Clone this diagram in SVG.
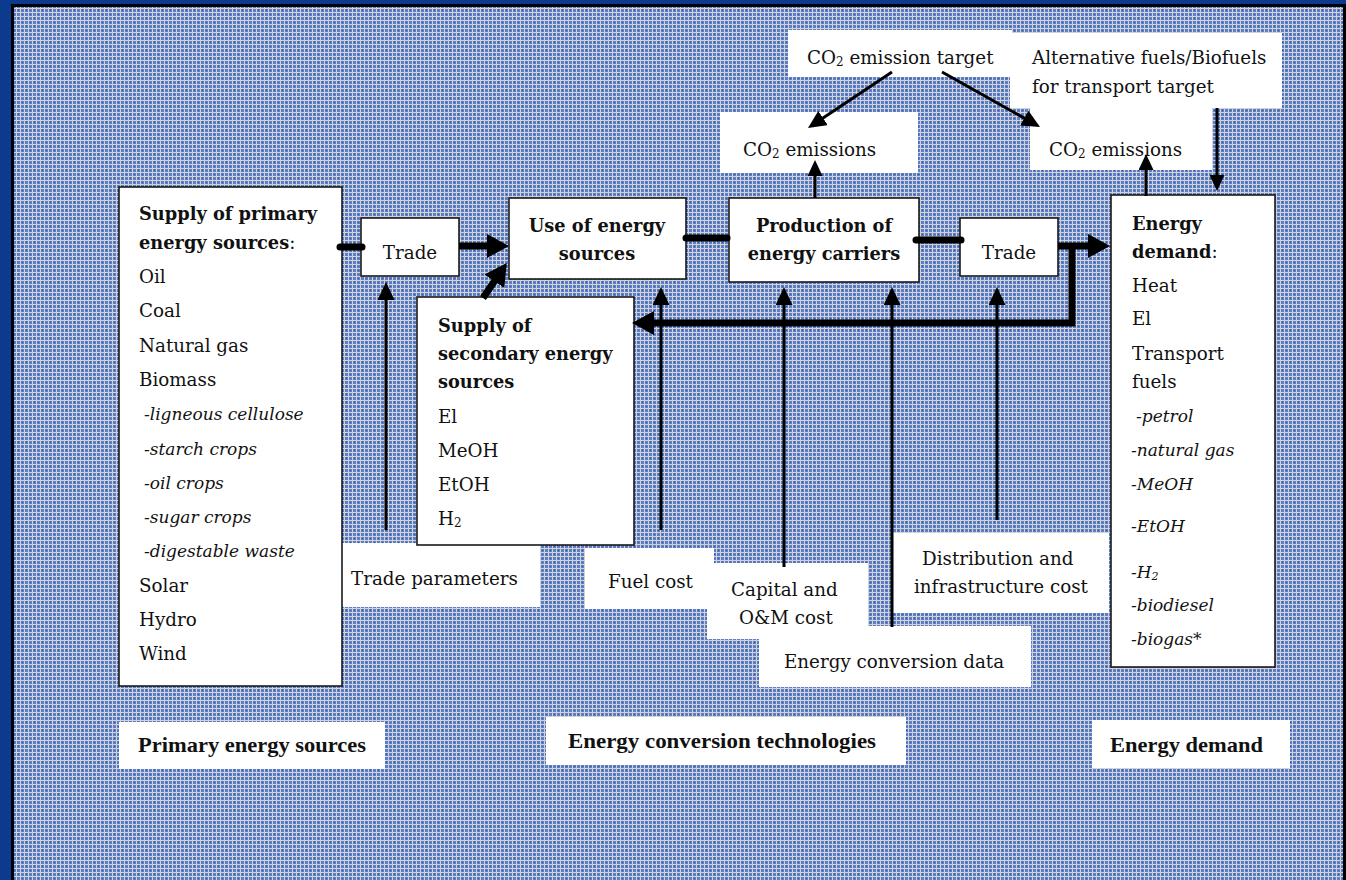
<svg xmlns="http://www.w3.org/2000/svg" width="1346" height="880" viewBox="0 0 1346 880">
<style>
.t{font-family:"DejaVu Serif","Liberation Serif",serif;font-size:18.3px;fill:#111}
.b{font-weight:bold;font-size:17.8px}
.i{font-style:italic;font-size:17px}
.lab{font-family:"Liberation Serif",serif;font-size:22px;font-weight:bold;fill:#111}
.node{fill:#fff;stroke:#1a1a1a;stroke-width:1.6}
.wb{fill:#fff}
.thick{stroke:#000;stroke-width:7;fill:none}
.med{stroke:#000;stroke-width:3;fill:none}
</style>
<defs>
<pattern id="bg" width="8" height="8" patternUnits="userSpaceOnUse">
<rect width="8" height="8" fill="#5d7fc9"/>
<rect x="0" y="0" width="8" height="1" fill="#d2d2d2"/>
<rect x="0" y="4" width="8" height="1" fill="#d2d2d2"/>
<rect x="0" y="0" width="1" height="8" fill="#d2d2d2"/>
<rect x="4" y="0" width="1" height="8" fill="#d2d2d2"/>
<rect x="2" y="2" width="1" height="1" fill="#2a4ea8"/>
<rect x="6" y="6" width="1" height="1" fill="#2a4ea8"/>
</pattern>
<marker id="ah" viewBox="0 0 22 24" refX="10" refY="12" markerWidth="22" markerHeight="24" markerUnits="userSpaceOnUse" orient="auto"><path d="M0,0 L22,12 L0,24 z" fill="#000"/></marker>
<marker id="am" viewBox="0 0 18 17" refX="8" refY="8.5" markerWidth="18" markerHeight="17" markerUnits="userSpaceOnUse" orient="auto"><path d="M0,0 L18,8.5 L0,17 z" fill="#000"/></marker>
<marker id="as" viewBox="0 0 16 15" refX="8" refY="7.5" markerWidth="16" markerHeight="15" markerUnits="userSpaceOnUse" orient="auto"><path d="M0,0 L16,7.5 L0,15 z" fill="#000"/></marker>
</defs>

<rect width="1346" height="880" fill="#0b3a8e"/>
<rect x="11" y="4" width="1335" height="880" fill="#000"/>
<rect x="14" y="7" width="1329" height="880" fill="url(#bg)"/>

<g id="co2-target"><rect class="wb" x="788" y="30" width="224" height="47"/>
<text class="t" x="807" y="64">CO<tspan font-size="12" dy="2">2</tspan><tspan dy="-2"> emission target</tspan></text></g>
<g id="alt-target"><rect class="wb" x="1010" y="33" width="272" height="75"/>
<text class="t" x="1032" y="64">Alternative fuels/Biofuels</text>
<text class="t" x="1032" y="93">for transport target</text></g>
<g id="co2-em1"><rect class="wb" x="720" y="112" width="198" height="61"/>
<text class="t" x="743" y="156">CO<tspan font-size="12" dy="2">2</tspan><tspan dy="-2"> emissions</tspan></text></g>
<g id="co2-em2"><rect class="wb" x="1030" y="108" width="182" height="62"/>
<text class="t" x="1049" y="156">CO<tspan font-size="12" dy="2">2</tspan><tspan dy="-2"> emissions</tspan></text></g>

<g id="trade-params"><rect class="wb" x="342" y="543" width="198" height="64"/>
<text class="t" x="351" y="585">Trade parameters</text></g>
<g id="fuel-cost"><rect class="wb" x="585" y="548" width="129" height="61"/>
<text class="t" x="608" y="588">Fuel cost</text></g>
<g id="capital"><rect class="wb" x="707" y="563" width="161" height="76"/>
<text class="t" x="731" y="596">Capital and</text>
<text class="t" x="739" y="624">O&amp;M cost</text></g>
<g id="distribution"><rect class="wb" x="893" y="533" width="216" height="80"/>
<text class="t" x="922" y="565">Distribution and</text>
<text class="t" x="914" y="593">infrastructure cost</text></g>
<g id="conversion-data"><rect class="wb" x="759" y="626" width="272" height="61"/>
<text class="t" x="784" y="668">Energy conversion data</text></g>

<g id="primary"><rect class="node" x="119" y="187" width="223" height="499"/>
<text class="t b" x="139" y="220">Supply of primary</text>
<text class="t" x="139" y="249"><tspan class="b">energy sources</tspan>:</text>
<text class="t" x="139" y="283">Oil</text>
<text class="t" x="139" y="317">Coal</text>
<text class="t" x="139" y="352">Natural gas</text>
<text class="t" x="139" y="386">Biomass</text>
<text class="t i" x="144" y="420">-ligneous cellulose</text>
<text class="t i" x="144" y="455">-starch crops</text>
<text class="t i" x="144" y="489">-oil crops</text>
<text class="t i" x="144" y="523">-sugar crops</text>
<text class="t i" x="144" y="557">-digestable waste</text>
<text class="t" x="139" y="592">Solar</text>
<text class="t" x="139" y="626">Hydro</text>
<text class="t" x="139" y="660">Wind</text></g>

<g id="trade1"><rect class="node" x="361" y="218" width="98" height="58"/>
<text class="t" x="410" y="259" text-anchor="middle">Trade</text></g>

<g id="use"><rect class="node" x="509" y="198" width="177" height="81"/>
<text class="t b" x="597" y="232" text-anchor="middle">Use of energy</text>
<text class="t b" x="597" y="260" text-anchor="middle">sources</text></g>

<g id="production"><rect class="node" x="729" y="198" width="190" height="84"/>
<text class="t b" x="824" y="232" text-anchor="middle">Production of</text>
<text class="t b" x="824" y="260" text-anchor="middle">energy carriers</text></g>

<g id="trade2"><rect class="node" x="960" y="218" width="98" height="58"/>
<text class="t" x="1009" y="259" text-anchor="middle">Trade</text></g>

<g id="secondary"><rect class="node" x="417" y="297" width="217" height="248"/>
<text class="t b" x="438" y="332">Supply of</text>
<text class="t b" x="438" y="360">secondary energy</text>
<text class="t b" x="438" y="388">sources</text>
<text class="t" x="438" y="423">El</text>
<text class="t" x="438" y="457">MeOH</text>
<text class="t" x="438" y="491">EtOH</text>
<text class="t" x="438" y="525">H<tspan font-size="12" dy="2">2</tspan></text></g>

<g id="demand"><rect class="node" x="1111" y="195" width="164" height="472"/>
<text class="t b" x="1132" y="230">Energy</text>
<text class="t" x="1132" y="258"><tspan class="b">demand</tspan>:</text>
<text class="t" x="1132" y="292">Heat</text>
<text class="t" x="1132" y="325">El</text>
<text class="t" x="1132" y="360">Transport</text>
<text class="t" x="1132" y="388">fuels</text>
<text class="t i" x="1136" y="422">-petrol</text>
<text class="t i" x="1131" y="456">-natural gas</text>
<text class="t i" x="1131" y="490">-MeOH</text>
<text class="t i" x="1131" y="532">-EtOH</text>
<text class="t i" x="1131" y="578">-H<tspan font-size="11" dy="2">2</tspan></text>
<text class="t i" x="1131" y="611">-biodiesel</text>
<text class="t i" x="1131" y="645">-biogas*</text></g>

<g id="label-primary"><rect class="wb" x="119" y="722" width="266" height="47"/>
<text class="lab" x="138" y="752" textLength="228" lengthAdjust="spacingAndGlyphs">Primary energy sources</text></g>
<g id="label-conversion"><rect class="wb" x="546" y="717" width="360" height="48"/>
<text class="lab" x="568" y="748" textLength="308" lengthAdjust="spacingAndGlyphs">Energy conversion technologies</text></g>
<g id="label-demand"><rect class="wb" x="1092" y="720" width="198" height="48"/>
<text class="lab" x="1110" y="752" textLength="153" lengthAdjust="spacingAndGlyphs">Energy demand</text></g>

<g id="connectors">
<line class="thick" x1="340" y1="247" x2="362" y2="247" stroke-linecap="round"/>
<line class="thick" x1="459" y1="246" x2="497" y2="246" marker-end="url(#ah)"/>
<line class="thick" x1="483" y1="298" x2="500" y2="273" marker-end="url(#ah)"/>
<line class="thick" x1="686" y1="238" x2="727" y2="238" stroke-linecap="round"/>
<line class="thick" x1="916" y1="240" x2="961" y2="240" stroke-linecap="round"/>
<line class="thick" x1="1058" y1="246" x2="1098" y2="246" marker-end="url(#ah)"/>
<path class="thick" d="M1072,243 V323 H644" marker-end="url(#ah)"/>
<line class="med" x1="386" y1="530" x2="386" y2="292" marker-end="url(#am)"/>
<line class="med" x1="661" y1="530" x2="661" y2="297" marker-end="url(#am)"/>
<line class="med" x1="784" y1="567" x2="784" y2="297" stroke-width="4" marker-end="url(#am)"/>
<line class="med" x1="892" y1="627" x2="892" y2="297" marker-end="url(#am)"/>
<line class="med" x1="997" y1="520" x2="997" y2="297" marker-end="url(#am)"/>
<line class="med" x1="815" y1="198" x2="815" y2="168" stroke-width="3.5" marker-end="url(#as)"/>
<line class="med" x1="1146" y1="196" x2="1146" y2="162" stroke-width="3.5" marker-end="url(#as)"/>
<line class="med" x1="1217" y1="108" x2="1217" y2="183" stroke-width="2.5" marker-end="url(#as)"/>
<line class="med" x1="892" y1="72" x2="816.3" y2="122.5" marker-end="url(#am)"/>
<line class="med" x1="942" y1="72" x2="1031.3" y2="122.1" marker-end="url(#am)"/>
</g>
</svg>
